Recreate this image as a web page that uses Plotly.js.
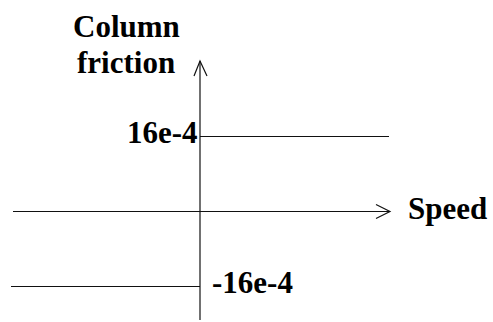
<!DOCTYPE html>
<html>
<head>
<meta charset="utf-8">
<script src="https://cdn.plot.ly/plotly-3.0.1.min.js"></script>
<style>
  html, body { margin: 0; padding: 0; background: #fff; }
  #plot { width: 493px; height: 322px; }
</style>
</head>
<body>
<div id="plot"></div>
<script>
// Coulomb friction: constant magnitude, sign follows speed
const SPEED_NEG = [-1, 0];
const FRICTION_NEG = [-16e-4, -16e-4];
const SPEED_POS = [0, 1];
const FRICTION_POS = [16e-4, 16e-4];
const LEVEL_LABELS = ['16e-4', '-16e-4'];
const Y_TITLE_LINES = ['Column', 'friction'];
const X_TITLE = 'Speed';

const W = 493, H = 322;
// pixel placement of the origin and scale
const X0 = 200, PX_PER_SPEED = 189;
const Y0 = 211.5, PX_PER_FRIC = 75 / 16e-4;

const toX = px => (px - X0) / PX_PER_SPEED;
const toY = py => (Y0 - py) / PX_PER_FRIC;

const ink = '#111';
const font = { family: 'Liberation Serif, Times New Roman, serif', size: 31, color: '#000', weight: 'bold' };

const traces = [
   { x: SPEED_NEG, y: FRICTION_NEG, type: 'scatter', mode: 'lines', line: { color: ink, width: 1.2 }, hoverinfo: 'skip' },
   { x: SPEED_POS, y: FRICTION_POS, type: 'scatter', mode: 'lines', line: { color: ink, width: 1.2 }, hoverinfo: 'skip' },
];

const axisLine = { color: ink, width: 1.2 };
const shapes = [
   // vertical axis
   { type: 'line', xref: 'x', yref: 'y', x0: 0, x1: 0, y0: toY(320), y1: toY(61), line: axisLine },
   // horizontal axis
   { type: 'line', xref: 'x', yref: 'y', x0: toX(13), x1: toX(390), y0: 0, y1: 0, line: axisLine },
   // open arrow heads
   { type: 'path', xref: 'x', yref: 'y', xsizemode: 'pixel', ysizemode: 'pixel',
     xanchor: 0, yanchor: toY(61), path: 'M -6,-15 L 0,0 L 7,-15', line: axisLine },
   { type: 'path', xref: 'x', yref: 'y', xsizemode: 'pixel', ysizemode: 'pixel',
     xanchor: toX(390), yanchor: 0, path: 'M -14,7 L 0,0 L -14,-7', line: axisLine },
];

const label = (text, x, y, xanchor, yshift, refs) => Object.assign({
   text: text, x: x, y: y, xanchor: xanchor, yanchor: 'middle', yshift: yshift,
   showarrow: false, font: font, xref: 'x', yref: 'y'
}, refs || {});

const paper = { xref: 'paper', yref: 'paper' };
const annotations = [
   label(Y_TITLE_LINES[0], 126 / W, 1 - 26 / H, 'center', 0, paper),
   label(Y_TITLE_LINES[1], 126 / W, 1 - 63 / H, 'center', 0, paper),
   label(X_TITLE, toX(406), 0, 'left', 3),
   label(LEVEL_LABELS[0], 0, FRICTION_POS[0], 'right', 4),
   label(LEVEL_LABELS[1], toX(210), FRICTION_NEG[0], 'left', 4),
];

const hidden = { visible: false, fixedrange: true };
const layout = {
   width: W, height: H,
   margin: { t: 0, r: 0, b: 0, l: 0 },
   paper_bgcolor: '#fff', plot_bgcolor: '#fff',
   showlegend: false,
   xaxis: Object.assign({ range: [toX(0), toX(W)] }, hidden),
   yaxis: Object.assign({ range: [toY(H), toY(0)] }, hidden),
   shapes: shapes,
   annotations: annotations,
};

Plotly.newPlot(document.getElementById('plot'), traces, layout, {
   displayModeBar: false, staticPlot: true
});
</script>
</body>
</html>
